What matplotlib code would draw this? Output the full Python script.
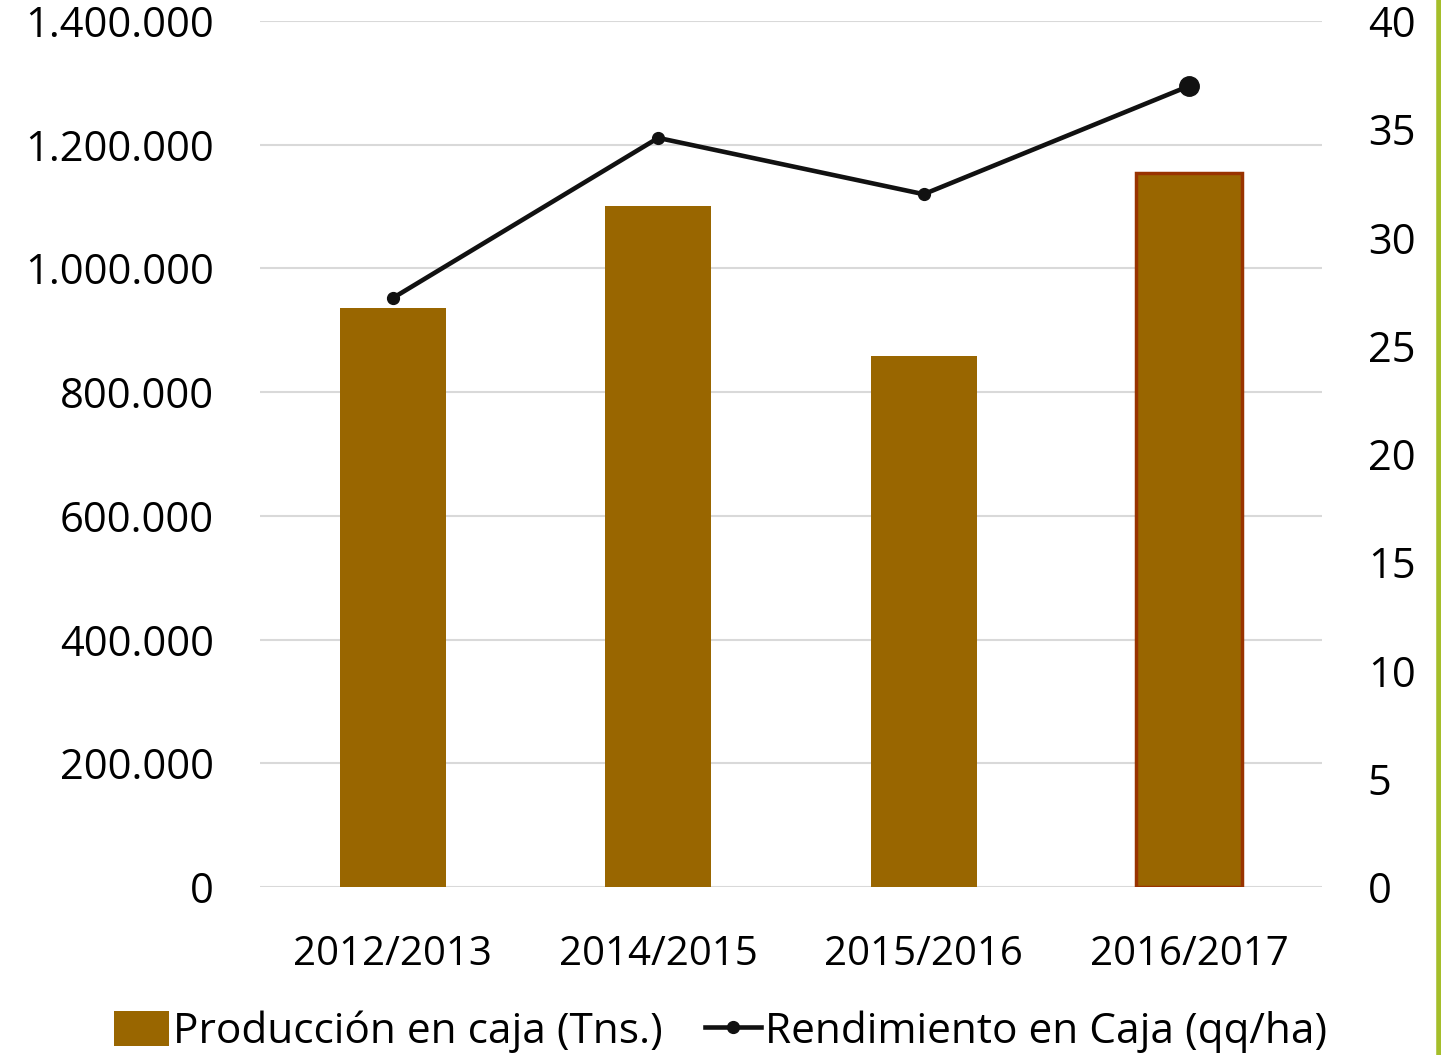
import matplotlib.pyplot as plt
import matplotlib.lines as mlines

# Datos del grafico
campanias = ["2012/2013", "2014/2015", "2015/2016", "2016/2017"]
produccion = [936000, 1101000, 858000, 1154000]
rendimiento = [27.2, 34.6, 32.0, 37.0]
ticks_izq = [0, 200000, 400000, 600000, 800000, 1000000, 1200000, 1400000]
ticks_der = [0, 5, 10, 15, 20, 25, 30, 35, 40]

plt.rcParams['font.family'] = ['Open Sans', 'DejaVu Sans']

fig = plt.figure(figsize=(14.41, 10.55), dpi=100)
ax = fig.add_axes([0.1804, 0.1592, 0.737, 0.8209])
x = list(range(len(campanias)))

# barras de produccion
bars = ax.bar(x, produccion, width=0.4, color='#996600', zorder=2, label='Producción en caja (Tns.)')
bars[-1].set_edgecolor('#993300')
bars[-1].set_linewidth(2.5)

ax.set_xlim(-0.5, 3.5)
ax.set_ylim(0, 1400000)
ax.set_yticks(ticks_izq)
ax.set_yticklabels([f"{t:,}".replace(",", ".") for t in ticks_izq])
ax.set_xticks(x)
ax.set_xticklabels(campanias)
ax.grid(axis='y', color='#d9d9d9', linewidth=1.5, zorder=0)
ax.set_axisbelow(True)
for s in ax.spines.values():
    s.set_visible(False)
ax.tick_params(axis='y', length=0, labelsize=30, pad=33)
ax.tick_params(axis='x', length=0, labelsize=29, pad=34)

# eje derecho con el rendimiento
ax2 = ax.twinx()
ax2.plot(x, rendimiento, color='#111111', linewidth=3.3, marker='o', markersize=8.5, zorder=3)
ax2.plot([x[-1]], [rendimiento[-1]], color='#111111', marker='o', markersize=14, linestyle='none', zorder=4)
ax2.set_ylim(0, 40)
ax2.set_yticks(ticks_der)
for s in ax2.spines.values():
    s.set_visible(False)
ax2.tick_params(length=0, labelsize=30, pad=33)

# leyenda
linea = mlines.Line2D([], [], color='#111111', linewidth=3.3, marker='o', markersize=8.5)
fig.legend([bars, linea], ['Producción en caja (Tns.)', 'Rendimiento en Caja (qq/ha)'],
           loc='center', bbox_to_anchor=(0.5, 0.022), ncol=2, frameon=False, fontsize=30.5,
           handlelength=1.3, handleheight=0.9, handletextpad=0.1, columnspacing=1.0)

# linea verde en el borde derecho
fig.add_artist(mlines.Line2D([0.9983, 0.9983], [0, 1], color='#a5be2a', linewidth=4))

fig.savefig('out.png', dpi=100)
